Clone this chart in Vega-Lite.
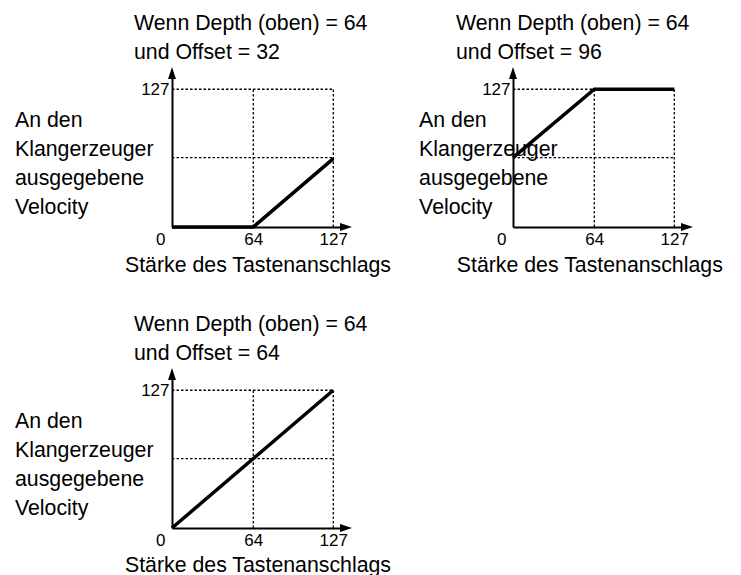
{
  "$schema": "https://vega.github.io/schema/vega-lite/v6.json",
  "padding": {"left": 14, "top": 12, "right": 5, "bottom": 0},
  "background": "white",
  "bounds": "flush",
  "spacing": 301,
  "datasets": {
    "curves": [
      {"panel": "A", "x": 0, "y": 0},
      {"panel": "A", "x": 64, "y": 0},
      {"panel": "A", "x": 127, "y": 63},
      {"panel": "B", "x": 0, "y": 64},
      {"panel": "B", "x": 64, "y": 127},
      {"panel": "B", "x": 127, "y": 127},
      {"panel": "C", "x": 0, "y": 0},
      {"panel": "C", "x": 127, "y": 127}
    ],
    "grid": [
      {"x": 64, "x2": 64, "y": 0, "y2": 127},
      {"x": 127, "x2": 127, "y": 0, "y2": 127},
      {"x": 0, "x2": 127, "y": 64, "y2": 64},
      {"x": 0, "x2": 127, "y": 127, "y2": 127}
    ],
    "arrows": [{"x": 0, "y": 142, "dir": 0}, {"x": 137, "y": 0, "dir": 90}]
  },
  "config": {
    "view": {"stroke": null},
    "font": "Liberation Sans",
    "axis": {
      "domainColor": "black",
      "domainWidth": 2,
      "ticks": false,
      "tickSize": 0,
      "grid": false,
      "labelFont": "Liberation Sans",
      "labelFontSize": 17,
      "labelColor": "black",
      "labelFlush": false,
      "labelBound": false,
      "labelOverlap": false,
      "titleFont": "Liberation Sans",
      "titleFontSize": 21.3,
      "titleFontWeight": "normal",
      "titleColor": "black"
    },
    "title": {
      "font": "Liberation Sans",
      "fontSize": 21.3,
      "fontWeight": "normal",
      "color": "black",
      "anchor": "start",
      "frame": "group",
      "lineHeight": 29,
      "offset": 4
    }
  },
  "vconcat": [
    {
      "hconcat": [
        {
          "title": {"text": ["Wenn Depth (oben) = 64", "und Offset = 32"], "dx": -38},
          "width": 174,
          "height": 154,
          "encoding": {
            "x": {"field": "x", "type": "quantitative", "scale": {"domain": [0, 137], "nice": false, "zero": false},
              "axis": {"values": [0, 64, 127], "labelBaseline": "alphabetic", "labelPadding": 17.5,
                "labelAlign": {"condition": {"test": "datum.value === 0", "value": "right"}, "value": "center"},
                "labelOffset": {"condition": {"test": "datum.value === 0", "value": -7}, "value": 0},
                "title": ["Stärke des Tastenanschlags"], "titleAlign": "left", "titleBaseline": "alphabetic", "titleX": -47.5, "titleY": 44.5}},
            "y": {"field": "y", "type": "quantitative", "scale": {"domain": [0, 142], "nice": false, "zero": false},
              "axis": {"values": [127], "labelBaseline": "middle", "labelPadding": 3,
                "title": ["An den", "Klangerzeuger", "ausgegebene", "Velocity"], "titleAngle": 0, "titleAlign": "left", "titleBaseline": "alphabetic", "titleLineHeight": 29, "titleX": -157.5, "titleY": 53.3}}
          },
          "layer": [
            {"data": {"name": "grid"}, "mark": {"type": "rule", "color": "black", "strokeWidth": 1.3, "strokeDash": [2.5, 2]},
              "encoding": {"x2": {"field": "x2"}, "y2": {"field": "y2"}}},
            {"data": {"name": "curves"}, "transform": [{"filter": "datum.panel === 'A'"}],
              "mark": {"type": "line", "color": "black", "strokeWidth": 3.5, "strokeJoin": "miter"}, "encoding": {}},
            {"data": {"name": "arrows"}, "mark": {"type": "point", "filled": true, "color": "black", "opacity": 1, "size": 144, "shape": "M0,-1L-0.66,1L0.66,1Z"},
              "encoding": {"angle": {"field": "dir", "type": "quantitative", "scale": null}}}
          ]
        },
        {
          "title": {"text": ["Wenn Depth (oben) = 64", "und Offset = 96"], "dx": -57},
          "width": 174,
          "height": 154,
          "encoding": {
            "x": {"field": "x", "type": "quantitative", "scale": {"domain": [0, 137], "nice": false, "zero": false},
              "axis": {"values": [0, 64, 127], "labelBaseline": "alphabetic", "labelPadding": 17.5,
                "labelAlign": {"condition": {"test": "datum.value === 0", "value": "right"}, "value": "center"},
                "labelOffset": {"condition": {"test": "datum.value === 0", "value": -7}, "value": 0},
                "title": ["Stärke des Tastenanschlags"], "titleAlign": "left", "titleBaseline": "alphabetic", "titleX": -56.7, "titleY": 44.5}},
            "y": {"field": "y", "type": "quantitative", "scale": {"domain": [0, 142], "nice": false, "zero": false},
              "axis": {"values": [127], "labelBaseline": "middle", "labelPadding": 3,
                "title": ["An den", "Klangerzeuger", "ausgegebene", "Velocity"], "titleAngle": 0, "titleAlign": "left", "titleBaseline": "alphabetic", "titleLineHeight": 29, "titleX": -94.4, "titleY": 53.3}}
          },
          "layer": [
            {"data": {"name": "grid"}, "mark": {"type": "rule", "color": "black", "strokeWidth": 1.3, "strokeDash": [2.5, 2]},
              "encoding": {"x2": {"field": "x2"}, "y2": {"field": "y2"}}},
            {"data": {"name": "curves"}, "transform": [{"filter": "datum.panel === 'B'"}],
              "mark": {"type": "line", "color": "black", "strokeWidth": 3.5, "strokeJoin": "miter"}, "encoding": {}},
            {"data": {"name": "arrows"}, "mark": {"type": "point", "filled": true, "color": "black", "opacity": 1, "size": 144, "shape": "M0,-1L-0.66,1L0.66,1Z"},
              "encoding": {"angle": {"field": "dir", "type": "quantitative", "scale": null}}}
          ]
        }
      ],
      "spacing": 167,
      "bounds": "flush"
    },
    {
      "title": {"text": ["Wenn Depth (oben) = 64", "und Offset = 64"], "dx": -38},
      "width": 174,
      "height": 154,
      "encoding": {
        "x": {"field": "x", "type": "quantitative", "scale": {"domain": [0, 137], "nice": false, "zero": false},
          "axis": {"values": [0, 64, 127], "labelBaseline": "alphabetic", "labelPadding": 17.5,
            "labelAlign": {"condition": {"test": "datum.value === 0", "value": "right"}, "value": "center"},
            "labelOffset": {"condition": {"test": "datum.value === 0", "value": -7}, "value": 0},
            "title": ["Stärke des Tastenanschlags"], "titleAlign": "left", "titleBaseline": "alphabetic", "titleX": -47.5, "titleY": 43.5}},
        "y": {"field": "y", "type": "quantitative", "scale": {"domain": [0, 142], "nice": false, "zero": false},
          "axis": {"values": [127], "labelBaseline": "middle", "labelPadding": 3,
            "title": ["An den", "Klangerzeuger", "ausgegebene", "Velocity"], "titleAngle": 0, "titleAlign": "left", "titleBaseline": "alphabetic", "titleLineHeight": 29, "titleX": -157.5, "titleY": 53.3}}
      },
      "layer": [
        {"data": {"name": "grid"}, "mark": {"type": "rule", "color": "black", "strokeWidth": 1.3, "strokeDash": [2.5, 2]},
          "encoding": {"x2": {"field": "x2"}, "y2": {"field": "y2"}}},
        {"data": {"name": "curves"}, "transform": [{"filter": "datum.panel === 'C'"}],
          "mark": {"type": "line", "color": "black", "strokeWidth": 3.5, "strokeJoin": "miter"}, "encoding": {}},
        {"data": {"name": "arrows"}, "mark": {"type": "point", "filled": true, "color": "black", "opacity": 1, "size": 144, "shape": "M0,-1L-0.66,1L0.66,1Z"},
          "encoding": {"angle": {"field": "dir", "type": "quantitative", "scale": null}}}
      ]
    }
  ]
}
